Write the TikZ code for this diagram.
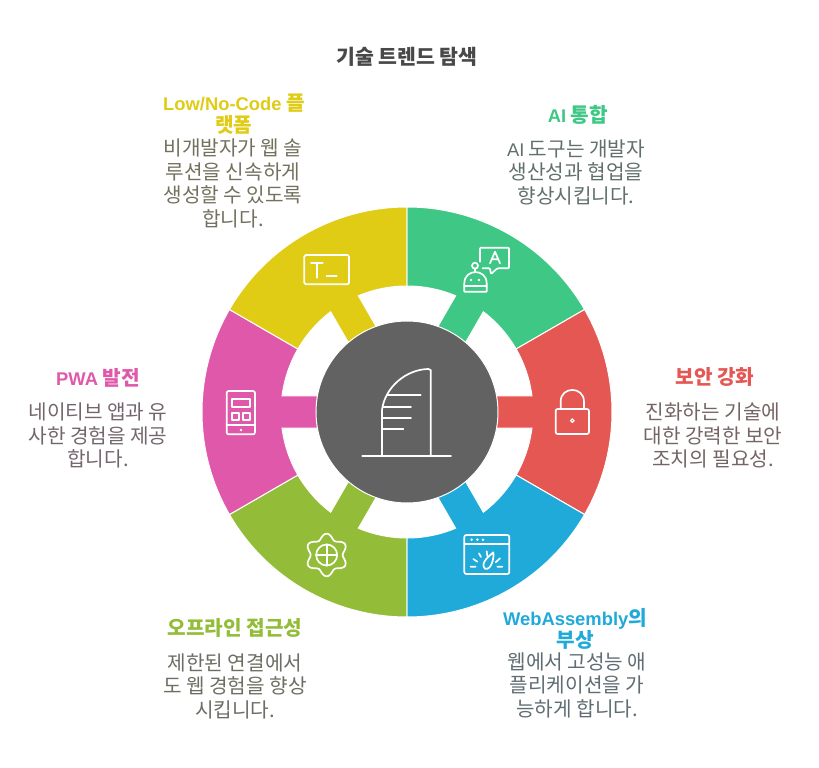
\documentclass[tikz,border=0pt]{standalone}
\usepackage{fontspec}
\setmainfont{Noto Sans CJK KR}
\newfontfamily\latfont[Scale=0.91]{Liberation Sans}
\definecolor{ygold}{HTML}{E0CB15}
\definecolor{gmint}{HTML}{3EC785}
\definecolor{rcoral}{HTML}{E55753}
\definecolor{bsky}{HTML}{1FAAD9}
\definecolor{llime}{HTML}{93BD38}
\definecolor{ppink}{HTML}{DF58A9}
\definecolor{hubgray}{HTML}{626262}
\definecolor{titlegray}{HTML}{484848}
\tikzset{
  headtext/.style={align=center,inner sep=0pt,font=\fontsize{20.2}{22.5}\selectfont\bfseries},
  bodytext/.style={align=center,inner sep=0pt,font=\fontsize{20.2}{23.5}\selectfont},
  iconline/.style={draw=white,line width=1.7pt,line cap=round,line join=round},
  zoomed/.style={x=0.33333pt,y=-0.33333pt}
}
\begin{document}
\begin{tikzpicture}[x=1pt,y=1pt]
  \useasboundingbox (-407pt,-356pt) rectangle (412pt,412pt);
  \foreach \ang/\col in {60/gmint,0/rcoral,-60/bsky,-120/llime,180/ppink,120/ygold}
    \fill[\col,draw=white,line width=1pt,rotate=\ang]
      (-30:205pt) arc[start angle=-30,end angle=30,radius=205pt]
      -- (30:126pt) arc[start angle=30,end angle=7.3,radius=126pt]
      -- (60pt,16pt) -- (60pt,-16pt)
      -- (-7.3:126pt) arc[start angle=-7.3,end angle=-30,radius=126pt] -- cycle;
  \node[circle,fill=hubgray,draw=white,line width=1pt,minimum size=182pt,inner sep=0pt] (hub) at (0,0) {};

  % hub icon
  \begin{scope}[shift={(-67pt,62pt)},zoomed]
    \draw[iconline] (67,319) -- (333,319);
    \draw[iconline] (126,319) -- (126,180) .. controls (135,110) and (200,58) .. (265,57) -- (272,60) -- (272,319);
    \draw[iconline] (143,134) -- (242,134);
    \draw[iconline] (130,170) -- (213,170);
    \draw[iconline] (128,204) -- (213,204);
    \draw[iconline] (128,238) -- (190,238);
  \end{scope}
  % yellow icon
  \begin{scope}[shift={(-207pt,212pt)},zoomed]
    \draw[iconline,rounded corners=1.5pt] (313,165) rectangle (447,253);
    \draw[iconline] (333,188) -- (368,188) (350,188) -- (350,233);
    \draw[iconline] (380,228) -- (410,228);
  \end{scope}
  % green icon
  \begin{scope}[shift={(-2pt,212pt)},zoomed]
    \draw[iconline,rounded corners=1pt] (225,185) -- (225,143) -- (312,143) -- (312,205) -- (277,205) -- (258,222) -- (255,205) -- (233,205);
    \draw[iconline] (255,190) -- (270,155) -- (285,190) (260,178) -- (280,178);
    \draw[iconline] (178,250) .. controls (178,205) and (245,205) .. (245,250) -- (245,275) -- (178,275) -- cycle;
    \draw[iconline] (178,258) -- (245,258);
    \draw[iconline] (210,206) -- (210,217);
    \draw[iconline] (210,197) circle[radius=3pt];
    \fill[white] (198,240) circle[radius=1.3pt] (222,240) circle[radius=1.3pt];
  \end{scope}
  % red icon
  \begin{scope}[shift={(-2pt,2pt)},zoomed]
    \draw[iconline,rounded corners=2pt] (452,-3) rectangle (552,72);
    \draw[iconline] (467,-3) -- (467,-25) .. controls (467,-72) and (537,-72) .. (537,-25) -- (537,-3);
    \draw[white,line width=1.2pt] (502,32) circle[radius=1.7pt];
  \end{scope}
  % blue icon
  \begin{scope}[shift={(-2pt,2pt)},zoomed]
    \draw[iconline,rounded corners=2pt] (178,375) rectangle (313,492);
    \draw[iconline] (178,403) -- (313,403);
    \fill[white] (200,389) circle[radius=1.4pt] (217,389) circle[radius=1.4pt] (234,389) circle[radius=1.4pt];
    \draw[iconline] (197,470) -- (212,470) (205,447) -- (217,455) (222,430) -- (228,441) (245,424) -- (247,438) (285,445) -- (272,457) (277,470) -- (292,470);
    \draw[iconline] (240,476) .. controls (225,460) and (250,440) .. (265,427) .. controls (268,445) and (258,482) .. (240,476) -- cycle;
  \end{scope}
  % lime icon
  \begin{scope}[shift={(-207pt,2pt)},zoomed]
    \draw[iconline] plot[domain=0:355,samples=72,smooth cycle] ({380+(56-8*cos(6*\x))*cos(\x)},{435+(56-8*cos(6*\x))*sin(\x)});
    \draw[iconline] (380,435) circle[radius=10.5pt];
    \draw[iconline] (380,403) -- (380,467) (348,435) -- (412,435);
  \end{scope}
  % pink icon
  \begin{scope}[shift={(-192pt,32pt)},zoomed]
    \draw[iconline,rounded corners=2pt] (35,33) rectangle (120,163);
    \draw[iconline] (35,135) -- (120,135);
    \draw[iconline] (52,57) rectangle (105,80);
    \draw[iconline] (52,98) rectangle (72,120);
    \draw[iconline] (85,98) rectangle (105,120);
    \fill[white] (78,150) circle[radius=1.4pt];
  \end{scope}

  \node[font=\fontsize{20.5}{22.5}\selectfont\bfseries,text=titlegray,inner sep=0pt] (title) at (0pt,355pt) {기술 트렌드 탐색};

  \node[headtext,text=ygold] (lowhead) at (-173pt,298pt) {{\latfont Low/No-Code} 플\\랫폼};
  \node[bodytext,text=ygold!12!titlegray!85] (lowbody) at (-174pt,228.5pt) {비개발자가 웹 솔\\루션을 신속하게\\생성할 수 있도록\\합니다.};

  \node[headtext,text=gmint] (aihead) at (171pt,297pt) {{\latfont AI} 통합};
  \node[bodytext,text=gmint!12!titlegray!85] (aibody) at (169pt,240pt) {{\latfont AI} 도구는 개발자\\생산성과 협업을\\향상시킵니다.};

  \node[headtext,text=rcoral] (sechead) at (308pt,35pt) {보안 강화};
  \node[bodytext,text=rcoral!12!titlegray!85] (secbody) at (306pt,-23.5pt) {진화하는 기술에\\대한 강력한 보안\\조치의 필요성.};

  \node[headtext,text=bsky] (wasmhead) at (168pt,-217pt) {{\latfont WebAssembly}의\\부상};
  \node[bodytext,text=bsky!12!titlegray!85] (wasmbody) at (170pt,-273pt) {웹에서 고성능 애\\플리케이션을 가\\능하게 합니다.};

  \node[headtext,text=llime] (offhead) at (-172pt,-216pt) {오프라인 접근성};
  \node[bodytext,text=llime!12!titlegray!85] (offbody) at (-172pt,-274pt) {제한된 연결에서\\도 웹 경험을 향상\\시킵니다.};

  \node[headtext,text=ppink] (pwahead) at (-309pt,34pt) {{\latfont PWA} 발전};
  \node[bodytext,text=ppink!12!titlegray!85] (pwabody) at (-309pt,-23.5pt) {네이티브 앱과 유\\사한 경험을 제공\\합니다.};
\end{tikzpicture}
\end{document}
